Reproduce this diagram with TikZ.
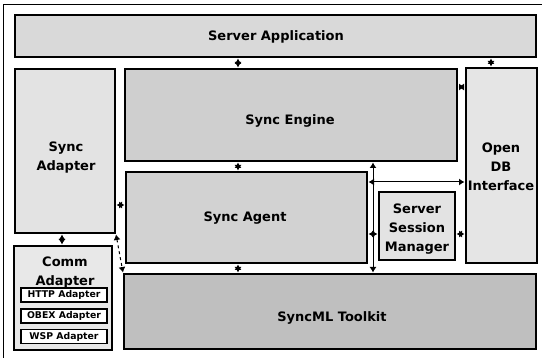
\documentclass[tikz,border=0pt]{standalone}
\usepackage{fontspec}
\setmainfont{DejaVu Sans}
\usetikzlibrary{arrows.meta}
\tikzset{
  blk/.style={draw=black, line width=1.8pt, inner sep=0pt},
  smallblk/.style={draw=black, line width=1.6pt, fill=white, inner sep=0pt,
    minimum width=86pt, minimum height=14pt, font=\bfseries\fontsize{9.3}{10}\selectfont},
  txt/.style={inner sep=0pt, align=center, font=\bfseries\fontsize{13}{19}\selectfont},
  dar/.style={line width=1pt, {Latex[length=5.5pt,width=7pt]}-{Latex[length=5.5pt,width=7pt]},
    shorten <=0.6pt, shorten >=0.6pt},
  frame/.style={line width=0.8pt}
}
\begin{document}
\begin{tikzpicture}[x=1pt,y=-1pt]
\useasboundingbox (0,0) rectangle (542,358);
\fill[white] (0,0) rectangle (542,358);
\draw[frame] (3,358) -- (3,4) -- (542,4);

\node[blk, fill=gray!30, minimum width=521pt, minimum height=42pt] (app) at (275.5,36) {};
\node[blk, fill=gray!22, minimum width=100pt, minimum height=164pt] (sad) at (65,151) {};
\node[blk, fill=gray!38, minimum width=332pt, minimum height=92pt] (eng) at (291,115) {};
\node[blk, fill=gray!20, minimum width=71pt, minimum height=195pt] (odb) at (501.5,165.5) {};
\node[blk, fill=gray!35, minimum width=241pt, minimum height=91pt] (agent) at (246.5,217.5) {};
\node[blk, fill=gray!22, minimum width=76pt, minimum height=68pt] (ssm) at (417,226) {};
\node[blk, fill=gray!50, minimum width=412pt, minimum height=75pt] (tk) at (330,311.5) {};
\node[blk, fill=gray!18, minimum width=98pt, minimum height=104pt] (comm) at (63,298) {};

\node[txt] (apptxt) at (276,37) {Server Application};
\node[txt] (engtxt) at (290,121) {Sync Engine};
\node[txt] (sadtxt) at (66,157.5) {Sync\\Adapter};
\node[txt] (agenttxt) at (245,218) {Sync Agent};
\node[txt] (odbtxt) at (501,167) {Open\\DB\\Interface};
\node[txt] (ssmtxt) at (417,229) {Server\\Session\\Manager};
\node[txt] (tktxt) at (332,318) {SyncML Toolkit};
\node[txt] (commtxt) at (65,272.5) {Comm\\Adapter};
\node[smallblk] (http) at (64,295) {HTTP Adapter};
\node[smallblk] (obex) at (64,316) {OBEX Adapter};
\node[smallblk] (wsp) at (64,336.5) {WSP Adapter};

\coordinate (xa) at (238,0);
\coordinate (xb) at (373,0);
\coordinate (xc) at (491,0);
\coordinate (xd) at (62,0);
\coordinate (ya) at (0,87);
\coordinate (yb) at (0,182);
\coordinate (yc) at (0,234);
\coordinate (yd) at (0,205);

\draw[dar] (app.south -| xa) -- (eng.north -| xa);
\draw[dar] (app.south -| xc) -- (odb.north -| xc);
\draw[dar] (eng.east |- ya) -- (odb.west |- ya);
\draw[dar] (eng.south -| xa) -- (agent.north -| xa);
\draw[dar] (agent.south -| xa) -- (tk.north -| xa);
\draw[dar] (eng.south -| xb) -- (tk.north -| xb);
\draw[dar] (agent.east |- yb) -- (odb.west |- yb);
\draw[dar] (agent.east |- yc) -- (ssm.west |- yc);
\draw[dar] (ssm.east |- yc) -- (odb.west |- yc);
\draw[dar] (sad.east |- yd) -- (agent.west |- yd);
\draw[dar] (sad.south -| xd) -- (comm.north -| xd);
\draw[dar, dashed] (sad.south east) -- (tk.north west);
\end{tikzpicture}
\end{document}
